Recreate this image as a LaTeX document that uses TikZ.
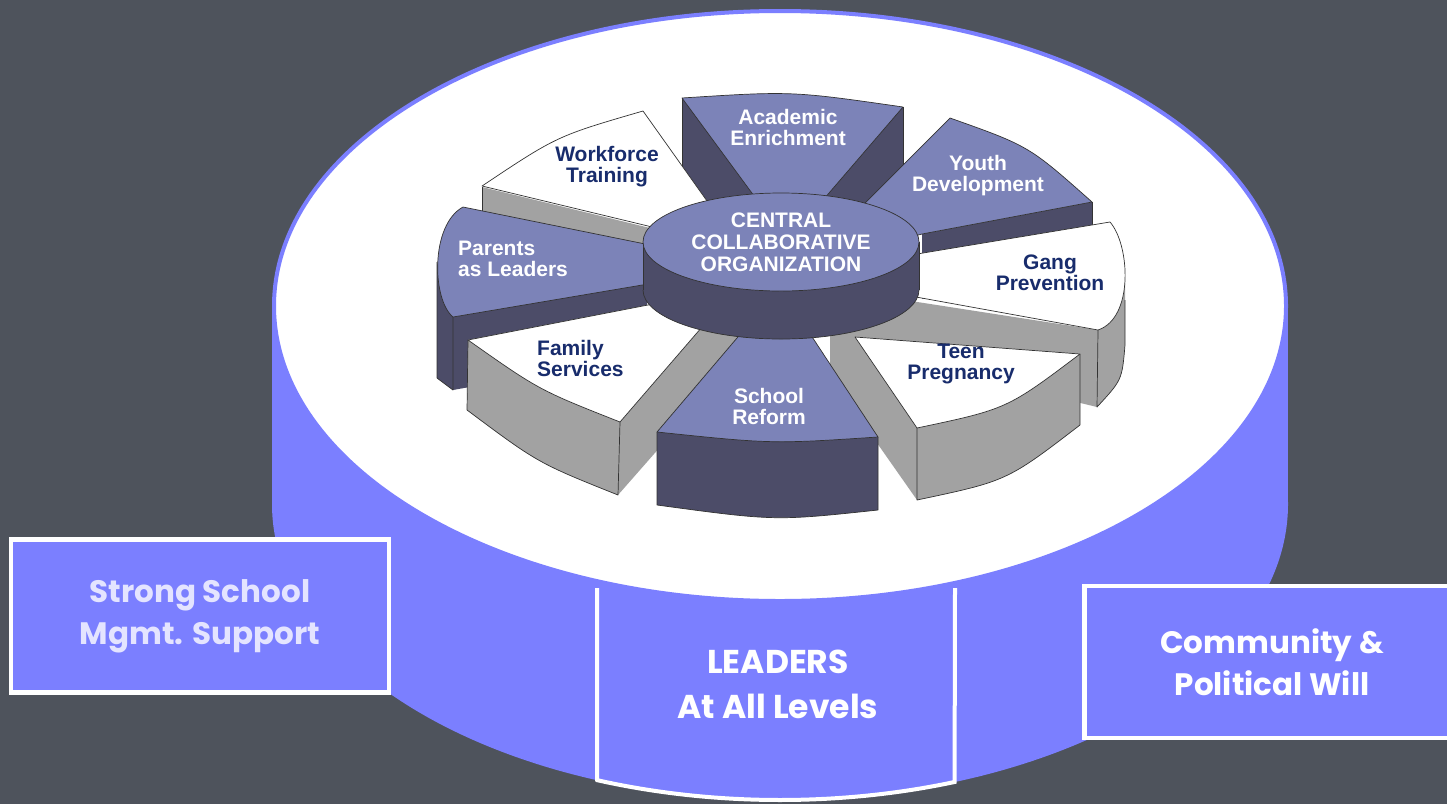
\documentclass[tikz,border=0pt]{standalone}
\usepackage{fontspec}
\setmainfont{Liberation Sans}
\newfontfamily\gothicfont{Poppins}
\usepackage{tikz}
\usetikzlibrary{positioning,shapes.geometric}

\definecolor{slate}{RGB}{78,83,92}
\definecolor{drumblue}{RGB}{123,127,255}
\definecolor{pieblue}{RGB}{124,131,184}
\definecolor{piedark}{RGB}{76,76,104}
\definecolor{piegray}{RGB}{162,162,162}
\definecolor{navy}{RGB}{24,44,108}
\definecolor{lavender}{RGB}{228,228,255}

\begin{document}
\begin{tikzpicture}[x=1pt,y=-1pt,
  rim/.style={draw=black!80,line width=0.7pt,line join=round},
  bluetop/.style={rim,fill=pieblue},
  whitetop/.style={rim,fill=white},
  darkside/.style={fill=piedark},
  grayside/.style={fill=piegray},
  pielabel/.style={inner sep=0pt,font=\fontsize{21}{21}\selectfont\bfseries},
  onblue/.style={pielabel,text=white,align=center},
  onwhite/.style={pielabel,text=navy,align=center},
  boxtext/.style={font=\gothicfont\fontsize{31}{42}\selectfont\bfseries,align=center,text=white},
  pillar/.style={boxtext,draw=white,line width=4.5pt,fill=drumblue,inner sep=0pt}]

\useasboundingbox (0,0) rectangle (1447,804);
\fill[slate] (0,0) rectangle (1447,804);
\clip (0,0) rectangle (1447,804);

% Drum
\fill[drumblue] (272,306) rectangle (1288,504);
\fill[drumblue] (780,504) ellipse[x radius=508,y radius=296];
\draw[drumblue,fill=white,line width=4pt] (780,306) ellipse[x radius=506,y radius=295];

% Academic Enrichment (back)
\fill[darkside] (682,98) -- (682,166) -- (750,270) -- (760,190) -- cycle;
\fill[darkside] (903,107) -- (903,168) -- (820,275) -- (800,200) -- cycle;
\draw[rim] (682,98) -- (682,166) (903,107) -- (903,168);
\draw[bluetop] (682,98) .. controls (792,91) .. (903,107) -- (823,200) -- (757,200) -- cycle;

% Workforce Training
\fill[grayside] (482,187) -- (650,228) -- (650,292) -- (482,252) -- cycle;
\draw[rim] (482,187) -- (482,211);
\draw[whitetop] (482,186) .. controls (557,136) .. (643,111) -- (712,208) -- (690,240) -- (648,226) -- cycle;

% Youth Development
\fill[darkside] (1092,202) -- (922,234) -- (922,299) -- (1092,267) -- cycle;
\draw[rim] (1092,202) -- (1092,226);
\draw[bluetop] (950,118) .. controls (1029,146) .. (1092,202) -- (922,234) -- (900,240) -- (858,210) -- cycle;

% Parents as Leaders
\fill[darkside] (453,317) -- (437,262) -- (437,378) -- (453,390) -- (647,355) -- (647,283) -- cycle;
\draw[rim] (437,262) -- (437,378) -- (453,390) -- (453,317);
\draw[bluetop] (463,207) -- (660,247) -- (660,282) -- (453,317) .. controls (432,300) and (430,225) .. (463,207) -- cycle;

% Gang Prevention
\fill[grayside] (1098,330) -- (1125,282) -- (1125,345) .. controls (1122,380) .. (1097,407) -- (840,345) -- (840,290) -- cycle;
\draw[rim] (1125,300) -- (1125,345) .. controls (1122,380) .. (1097,407) -- (1098,330);
\draw[whitetop] (905,256) -- (1110,222) .. controls (1130,245) and (1134,318) .. (1098,330) -- (905,295) -- cycle;

% Family Services
\fill[grayside] (468,340) -- (467,410) .. controls (538,463) .. (618,495) -- (740,356) -- (740,283) -- (648,305) -- cycle;
\draw[rim] (468,340) -- (467,410) .. controls (538,463) .. (618,495) -- (620,422);
\draw[whitetop] (468,340) -- (648,305) -- (740,283) -- (620,422) .. controls (539,390) .. (468,340) -- cycle;

% Teen Pregnancy
\fill[grayside] (855,337) -- (1080,354) -- (1080,425) .. controls (1007,481) .. (917,500) -- (830,376) -- (830,304) -- cycle;
\draw[rim] (917,428) -- (917,500) .. controls (1007,481) .. (1080,425) -- (1080,354);
\draw[whitetop] (855,337) -- (1080,354) .. controls (1007,409) .. (917,428) -- cycle;

% School Reform (front)
\fill[darkside] (657,432) -- (657,505) .. controls (775,521) .. (878,510) -- (878,437) -- cycle;
\draw[rim] (657,432) -- (657,505) .. controls (775,521) .. (878,510) -- (878,437);
\draw[bluetop] (657,432) -- (760,311) -- (795,311) -- (878,437) .. controls (772,444) .. (657,432) -- cycle;

% Central hub
\fill[piedark] (781,290) ellipse[x radius=138,y radius=49];
\draw[rim] (643,290) arc[start angle=180,end angle=360,x radius=138,y radius=-49];
\fill[piedark] (643,242) rectangle (919,290);
\draw[rim] (643,242) -- (643,290) (919,242) -- (919,290);
\node[bluetop,ellipse,minimum width=276pt,minimum height=98pt,inner sep=0pt,
      text=white,font=\fontsize{21}{22}\selectfont\bfseries,align=center]
  (central) at (781,242) {CENTRAL\\COLLABORATIVE\\ORGANIZATION};

% Sector labels
\node[onblue] (academic) at (788,127) {Academic\\Enrichment};
\node[onwhite] (workforce) at (607,167) {Workforce\\Training};
\node[onblue] (youth) at (978,176) {Youth\\Development};
\node[onwhite] (gang) at (1050,273) {Gang\\Prevention};
\node[onblue,align=left,anchor=west] (parents) at (458,259) {Parents\\as Leaders};
\node[onwhite,align=left,anchor=west] (family) at (537,358) {Family\\Services};
\node[onblue] (school) at (769,406) {School\\Reform};
\node[onwhite] (teen) at (961,364) {Teen\\Pregnancy};

% Base boxes
\node[pillar,text=lavender,minimum width=378pt,minimum height=153pt] (mgmt) at (200,616) {Strong School\\Mgmt. Support};
\node[pillar,minimum width=375pt,minimum height=152pt] (will) at (1272,662) {Community \&\\Political Will};
\draw[white,line width=4pt] (597,588) -- (597,780)
  -- plot[domain=111.1:69.9,samples=40] ({780+508*cos(\x)},{504+296*sin(\x)}) -- (955,588);
\node[boxtext,font=\gothicfont\fontsize{33}{45}\selectfont\bfseries] (leaders) at (778,684) {LEADERS\\At All Levels};
\end{tikzpicture}
\end{document}
